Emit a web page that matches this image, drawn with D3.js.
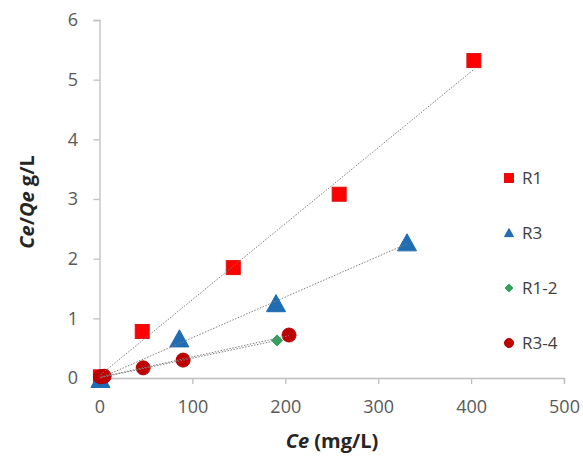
<!DOCTYPE html>
<html><head><meta charset="utf-8">
<script src="https://cdn.jsdelivr.net/npm/d3@7"></script>
<style>body{margin:0;background:#fff}svg{display:block}</style>
</head><body>
<svg id="c" width="583" height="456"></svg>
<script>
// Data
const seriesNames = ["R1", "R3", "R1-2", "R3-4"];
const r1X = [1, 46, 144, 258, 403];
const r1Y = [0.02, 0.78, 1.85, 3.08, 5.32];
const r3X = [1, 86, 190, 331];
const r3Y = [-0.03, 0.65, 1.24, 2.26];
const r12X = [2, 191];
const r12Y = [0.01, 0.63];
const r34X = [1, 5, 47, 90, 204];
const r34Y = [0.02, 0.03, 0.17, 0.30, 0.72];
const xTicks = [0, 100, 200, 300, 400, 500];
const yTicks = [0, 1, 2, 3, 4, 5, 6];

const svg = d3.select("#c");
const x = d3.scaleLinear().domain([0, 500]).range([99.5, 564]);
const y = d3.scaleLinear().domain([0, 6]).range([378, 20]);
const font = "'Open Sans', 'Liberation Sans', sans-serif";

// axes
const xa = svg.append("g").attr("transform", `translate(0,${y(0)})`)
  .call(d3.axisBottom(x).tickValues(xTicks).tickSize(6).tickPadding(16).tickFormat(d3.format("d")));
const ya = svg.append("g").attr("transform", `translate(${x(0)},0)`)
  .call(d3.axisLeft(y).tickValues(yTicks).tickSize(6).tickPadding(15.5).tickFormat(d3.format("d")));
[xa, ya].forEach(a => {
  a.select(".domain").attr("stroke", "#bfbfbf").attr("stroke-width", 1.3);
  a.selectAll(".tick line").attr("stroke", "#bfbfbf").attr("stroke-width", 1.3);
  a.selectAll(".tick text").attr("fill", "#595959").style("font-family", font).style("font-size", "18px");
});

const series = [
  {name: seriesNames[0], xs: r1X, ys: r1Y, type: "square", fill: "#ff0000", stroke: "#e01010", size: 14, lsize: 9},
  {name: seriesNames[1], xs: r3X, ys: r3Y, type: "triangle", fill: "#1f6db3", stroke: "#1f6db3", size: 19, lsize: 9},
  {name: seriesNames[2], xs: r12X, ys: r12Y, type: "diamond", fill: "#2ea35a", stroke: "#2ea35a", size: 11, lsize: 8},
  {name: seriesNames[3], xs: r34X, ys: r34Y, type: "circle", fill: "#c00000", stroke: "#b00000", size: 14, lsize: 9}
];

function marker(g, type, cx, cy, s, fill, stroke) {
  if (type === "square") {
    g.append("rect").attr("x", cx - s/2).attr("y", cy - s/2).attr("width", s).attr("height", s)
      .attr("fill", fill).attr("stroke", stroke).attr("stroke-width", 1);
  } else if (type === "triangle") {
    const h = s * 0.9;
    g.append("path").attr("d", `M${cx},${cy - h*0.55}L${cx + s/2},${cy + h*0.45}L${cx - s/2},${cy + h*0.45}Z`)
      .attr("fill", fill).attr("stroke", stroke).attr("stroke-width", 1);
  } else if (type === "diamond") {
    g.append("path").attr("d", `M${cx},${cy - s/2}L${cx + s/2},${cy}L${cx},${cy + s/2}L${cx - s/2},${cy}Z`)
      .attr("fill", fill).attr("stroke", stroke).attr("stroke-width", 1);
  } else {
    g.append("circle").attr("cx", cx).attr("cy", cy).attr("r", s/2)
      .attr("fill", fill).attr("stroke", stroke).attr("stroke-width", 1);
  }
}

// markers
const mg = svg.append("g");
series.forEach(s => {
  s.xs.forEach((xv, i) => marker(mg, s.type, x(xv), y(s.ys[i]), s.size, s.fill, s.stroke));
});

// linear trendlines (least squares of each series)
const lg = svg.append("g");
series.forEach(s => {
  const mx = d3.mean(s.xs), my = d3.mean(s.ys);
  const sxy = d3.sum(s.xs, (v, i) => (v - mx) * (s.ys[i] - my));
  const sxx = d3.sum(s.xs, v => (v - mx) * (v - mx));
  const b = sxy / sxx, a = my - b * mx;
  const x0 = d3.min(s.xs), x1 = d3.max(s.xs);
  lg.append("line").attr("x1", x(x0)).attr("y1", y(a + b * x0)).attr("x2", x(x1)).attr("y2", y(a + b * x1))
    .attr("stroke", "#7f7f7f").attr("stroke-width", 1).attr("stroke-dasharray", "1.5,1.5");
});

// legend
const legY = [178, 233, 288, 343];
const leg = svg.append("g");
series.forEach((s, i) => {
  marker(leg, s.type, 509, legY[i], s.lsize, s.fill, s.stroke);
  leg.append("text").attr("x", 522).attr("y", legY[i]).attr("dy", "0.36em")
    .attr("fill", "#404040").style("font-family", font).style("font-size", "17px").text(s.name);
});

// axis titles
const xt = svg.append("text").attr("x", 332).attr("y", 448).attr("text-anchor", "middle")
  .attr("fill", "#262626").style("font-family", font).style("font-size", "20px").style("font-weight", "bold");
xt.append("tspan").style("font-style", "italic").text("Ce");
xt.append("tspan").text(" (mg/L)");

const yt = svg.append("text").attr("transform", "translate(34,202) rotate(-90)").attr("text-anchor", "middle")
  .attr("fill", "#262626").style("font-family", font).style("font-size", "20px").style("font-weight", "bold");
yt.append("tspan").style("font-style", "italic").text("Ce");
yt.append("tspan").text("/");
yt.append("tspan").style("font-style", "italic").text("Qe");
yt.append("tspan").text(" g/L");
</script>
</body></html>
